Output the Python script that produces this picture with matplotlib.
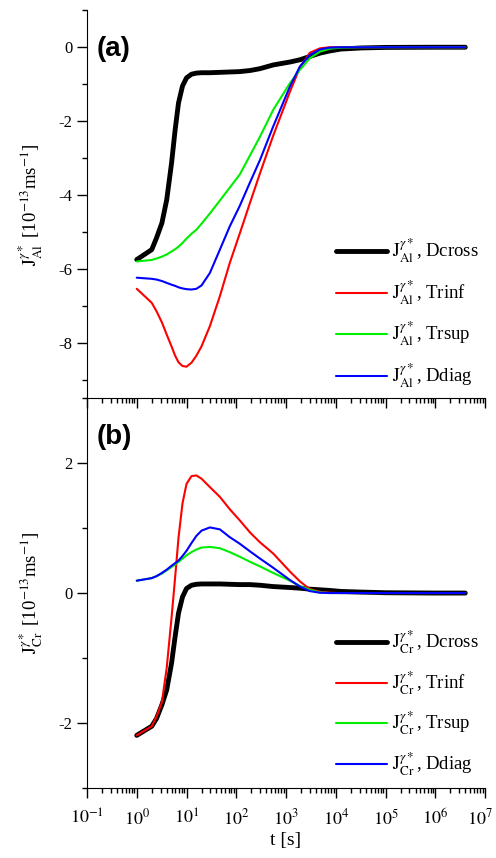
import matplotlib
matplotlib.use('Agg')
import matplotlib.pyplot as plt
from matplotlib.transforms import ScaledTranslation
from matplotlib.ticker import MultipleLocator, LogLocator, NullFormatter

plt.rcParams['font.family'] = ['Liberation Serif', 'DejaVu Serif']
plt.rcParams['mathtext.fontset'] = 'stix'

# time points [s]
t = [1, 2, 2.5, 3.2, 4, 5, 5.9, 6.9, 8.3, 10, 12.6, 15.8, 20, 29.5, 46.8, 74, 117, 190,
     300, 550, 1200, 1900, 3000, 4800, 7600, 12600, 31600, 1e5, 1e6, 4e6]

# (a) J_Al [1e-13 m/s]
al_dcross = [-5.75, -5.48, -5.16, -4.76, -4.13, -3.14, -2.24, -1.51, -1.05, -0.83, -0.73, -0.7,
             -0.69, -0.69, -0.68, -0.67, -0.66, -0.63, -0.58, -0.48, -0.4, -0.34, -0.25, -0.16,
             -0.1, -0.05, -0.02, -0.005, 0, 0]
al_trinf = [-6.54, -6.92, -7.15, -7.45, -7.78, -8.1, -8.35, -8.53, -8.63, -8.65, -8.54, -8.35,
            -8.1, -7.55, -6.74, -5.84, -5.05, -4.2, -3.41, -2.4, -1.2, -0.55, -0.15, -0.03,
            0, 0, 0, 0, 0, 0]
al_trsup = [-5.8, -5.76, -5.72, -5.67, -5.61, -5.53, -5.47, -5.4, -5.3, -5.18, -5.05, -4.94,
            -4.78, -4.5, -4.15, -3.8, -3.45, -2.92, -2.42, -1.7, -0.97, -0.61, -0.3, -0.12,
            -0.04, -0.01, 0, 0, 0, 0]
al_ddiag = [-6.24, -6.27, -6.29, -6.33, -6.38, -6.43, -6.46, -6.5, -6.53, -6.55, -6.56, -6.54,
            -6.45, -6.11, -5.48, -4.85, -4.3, -3.65, -3.05, -2.15, -1.06, -0.52, -0.21, -0.06,
            -0.01, 0, 0, 0, 0, 0]

# (b) J_Cr [1e-13 m/s]
cr_dcross = [-2.19, -2.05, -1.93, -1.72, -1.49, -1.08, -0.67, -0.31, -0.06, 0.07, 0.12, 0.135,
             0.14, 0.14, 0.14, 0.135, 0.13, 0.13, 0.12, 0.10, 0.085, 0.075, 0.06, 0.05,
             0.04, 0.025, 0.015, 0.005, 0, 0]
cr_trinf = [-2.19, -2.05, -1.9, -1.68, -1.15, -0.38, 0.24, 0.85, 1.38, 1.68, 1.80, 1.81,
            1.76, 1.63, 1.48, 1.29, 1.12, 0.93, 0.78, 0.61, 0.33, 0.18, 0.06, 0.02,
            0.005, 0, 0, 0, 0, 0]
cr_trsup = [0.19, 0.23, 0.26, 0.3, 0.35, 0.4, 0.44, 0.48, 0.53, 0.58, 0.63, 0.67,
            0.7, 0.71, 0.69, 0.63, 0.56, 0.48, 0.41, 0.31, 0.19, 0.11, 0.05, 0.01,
            0, 0, 0, 0, 0, 0]
cr_ddiag = [0.19, 0.23, 0.26, 0.31, 0.36, 0.42, 0.46, 0.5, 0.57, 0.65, 0.77, 0.88,
            0.96, 1.01, 0.98, 0.86, 0.76, 0.64, 0.53, 0.39, 0.2, 0.1, 0.03, 0.005,
            0, 0, 0, 0, 0, 0]

xtick_exp = [-1, 0, 1, 2, 3, 4, 5, 6, 7]

names = ['Dcross', 'Trinf', 'Trsup', 'Ddiag']
colors = ['black', '#ff0000', '#00ee00', '#0000ff']
widths = [3.5, 1.5, 1.5, 1.5]

fig = plt.figure(figsize=(4.96, 8.58), dpi=100)
ax2 = fig.add_axes([0.1754, 0.0816, 0.8026, 0.4544])
ax1 = fig.add_axes([0.1754, 0.536, 0.8026, 0.452])
ax1.patch.set_visible(False)


def style(ax):
    ax.set_xscale('log')
    ax.set_xlim(0.1, 1e7)
    ax.spines['top'].set_visible(False)
    ax.spines['right'].set_visible(False)
    ax.set_xticks([10.0 ** e for e in xtick_exp])
    ax.xaxis.set_minor_locator(LogLocator(base=10, subs=range(2, 10), numticks=20))
    ax.xaxis.set_minor_formatter(NullFormatter())
    ax.yaxis.set_major_locator(MultipleLocator(2))
    ax.yaxis.set_minor_locator(MultipleLocator(1))
    ax.tick_params(which='major', direction='out', length=7, width=1, labelsize=12)
    ax.tick_params(which='minor', direction='out', length=3.5, width=1)
    ax.yaxis.set_major_formatter(plt.FuncFormatter(lambda v, p: '%d' % v))


def sub(el):
    return r'$\mathrm{J}_{\mathrm{%s}}^{\gamma *}$' % el


for ax, series, el, anchor in [(ax1, [al_dcross, al_trinf, al_trsup, al_ddiag], 'Al', (1.012, -0.008)),
                               (ax2, [cr_dcross, cr_trinf, cr_trsup, cr_ddiag], 'Cr', (1.012, -0.004))]:
    for y, n, c, w in zip(series, names, colors, widths):
        ax.plot(t, y, color=c, lw=w, label=sub(el) + ', ' + n, solid_capstyle='round')
    style(ax)
    ax.legend(loc='lower right', frameon=False, fontsize=13.5, handlelength=2.7,
              handletextpad=0.25, labelspacing=0.72, bbox_to_anchor=anchor,
              borderaxespad=0.2)
    ax.set_ylabel(sub(el) + r' [10$^{-13}$ms$^{-1}$]', fontsize=13.5, labelpad=10)

ax1.set_ylim(-9.5, 1)
ax2.set_ylim(-3, 3)
ax1.tick_params(axis='x', labelbottom=False)
ax2.set_xticklabels([r'$10^{%d}$' % e for e in xtick_exp])
ax2.tick_params(axis='x', which='major', labelsize=13, pad=8)
ax2.set_xlabel('t [s]', fontsize=14, labelpad=2)

# keep the last tick label (10^7) inside the figure edge
last = ax2.get_xticklabels()[-1]
last.set_transform(last.get_transform() + ScaledTranslation(-4 / 72, 0, fig.dpi_scale_trans))

ax1.text(0.025, 0.9, '(a)', transform=ax1.transAxes, fontsize=20, fontweight='bold',
         family='Liberation Sans', va='center', ha='left')
ax2.text(0.025, 0.9, '(b)', transform=ax2.transAxes, fontsize=20, fontweight='bold',
         family='Liberation Sans', va='center', ha='left')

fig.savefig('out.png', dpi=100)
